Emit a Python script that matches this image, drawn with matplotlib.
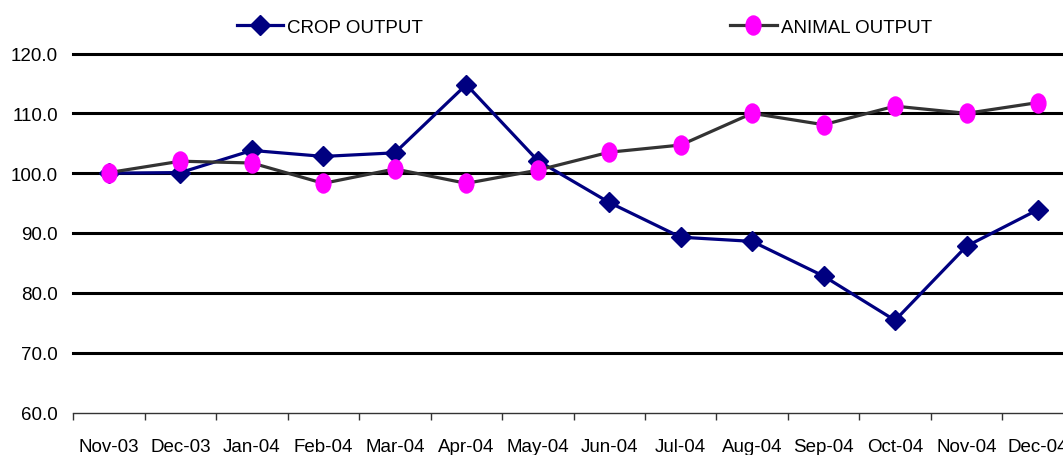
import matplotlib
matplotlib.use("Agg")
import matplotlib.pyplot as plt
from matplotlib.path import Path
from matplotlib.markers import MarkerStyle
from matplotlib.transforms import Affine2D
from matplotlib.lines import Line2D

months = ["Nov-03", "Dec-03", "Jan-04", "Feb-04", "Mar-04", "Apr-04", "May-04",
          "Jun-04", "Jul-04", "Aug-04", "Sep-04", "Oct-04", "Nov-04", "Dec-04"]
crop_output = [100.0, 100.1, 103.8, 102.8, 103.4, 114.8, 102.1,
               95.1, 89.3, 88.6, 82.8, 75.4, 87.8, 93.9]
animal_output = [100.1, 102.0, 101.7, 98.3, 100.7, 98.3, 100.5,
                 103.5, 104.7, 110.0, 108.1, 111.2, 110.0, 111.8]
y_ticks = [60, 70, 80, 90, 100, 110, 120]

plt.rcParams['font.family'] = ['Liberation Sans', 'DejaVu Sans']
plt.rcParams['font.size'] = 13.5

W, H = 1063, 456
fig = plt.figure(figsize=(W / 100, H / 100), dpi=100)
left_px, right_px, top_px, bot_px = 73.3, 1073.7, 54.5, 413.5
ax = fig.add_axes([left_px / W, 1 - bot_px / H, (right_px - left_px) / W, (bot_px - top_px) / H])

x = list(range(len(months)))

ellipse = Path.unit_circle().transformed(Affine2D().scale(0.78, 1.0))
ell_marker = MarkerStyle(ellipse)

navy = "#000080"
gray = "#333333"
magenta = "#FF00FF"

for yt in y_ticks[1:]:
    ax.axhline(yt, color="black", lw=2.2, clip_on=False, zorder=1)

ax.plot(x, crop_output, color=navy, lw=2.3, marker="D", markersize=9.8,
        markerfacecolor=navy, markeredgecolor=navy, zorder=3, clip_on=False)
ax.plot(x, animal_output, color=gray, lw=2.3, marker=ell_marker, markersize=13.7,
        markerfacecolor=magenta, markeredgecolor=magenta, zorder=4, clip_on=False)

ax.set_xlim(-0.5, len(months) - 0.5)
ax.set_ylim(60, 120)
ax.set_yticks(y_ticks)
ax.set_yticklabels([f"{v:.1f}" for v in y_ticks])
ax.tick_params(axis="y", length=0, pad=11)

ax.set_xticks(x)
ax.set_xticklabels(months)
ax.set_xticks([i - 0.5 for i in range(len(months) + 1)], minor=True)
ax.tick_params(axis="x", which="major", length=0, pad=18.5)
ax.tick_params(axis="x", which="minor", length=5, width=1.0, color="#333333", direction="out")

for s in ["left", "right", "top"]:
    ax.spines[s].set_visible(False)
ax.spines["bottom"].set_color("#333333")
ax.spines["bottom"].set_linewidth(1.0)

h1 = Line2D([], [], color=navy, lw=2.3, marker="D", markersize=9.8,
            markerfacecolor=navy, markeredgecolor=navy)
h2 = Line2D([], [], color=gray, lw=2.3, marker=ell_marker, markersize=13.7,
            markerfacecolor=magenta, markeredgecolor=magenta)

leg1 = fig.legend([h1], ["CROP OUTPUT"], loc="center left",
                  bbox_to_anchor=(237 / W, 1 - 28 / H), frameon=False,
                  borderpad=0, borderaxespad=0, handlelength=2.45, handletextpad=0.2)
leg2 = fig.legend([h2], ["ANIMAL OUTPUT"], loc="center left",
                  bbox_to_anchor=(730 / W, 1 - 28 / H), frameon=False,
                  borderpad=0, borderaxespad=0, handlelength=2.5, handletextpad=0.2)

fig.savefig("out.png", dpi=100)
